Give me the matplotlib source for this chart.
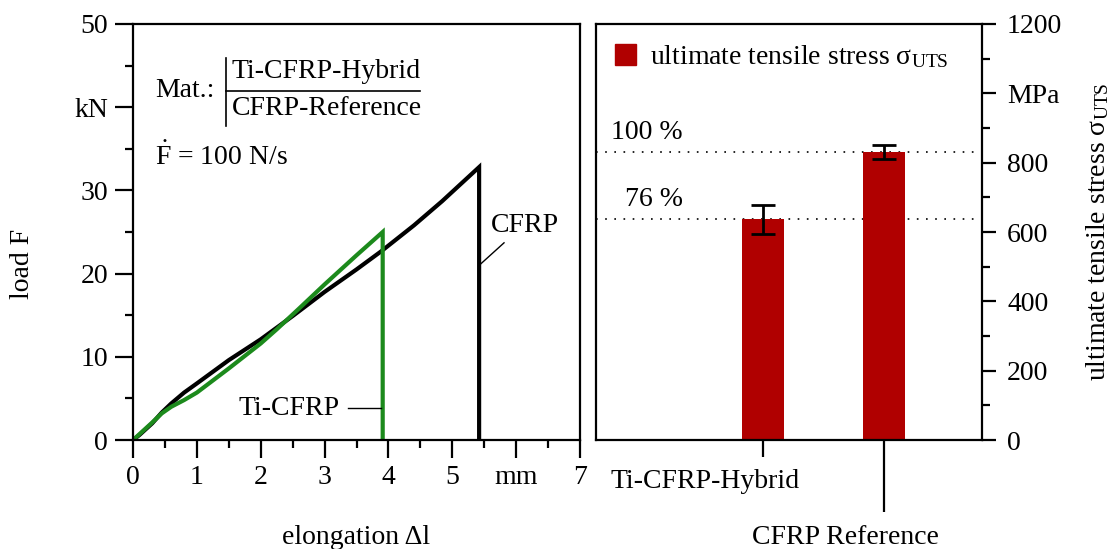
import matplotlib.pyplot as plt
import numpy as np
from matplotlib.ticker import MultipleLocator, FixedLocator
from matplotlib.patches import Patch

plt.rcParams['font.family'] = ['Liberation Serif', 'DejaVu Serif']
plt.rcParams['mathtext.fontset'] = 'custom'
plt.rcParams['mathtext.rm'] = 'Liberation Serif'
plt.rcParams['mathtext.it'] = 'Liberation Serif:italic'
plt.rcParams['font.size'] = 20

# load-elongation curves
cfrp_dl = [0, 0.1, 0.3, 0.45, 0.6, 0.8, 1.0, 1.5, 2.0, 2.5, 3.0, 3.5, 3.89, 4.4, 4.84, 5.42, 5.42]
cfrp_F = [0, 0.6, 2.0, 3.3, 4.4, 5.7, 6.8, 9.6, 12.1, 14.9, 17.8, 20.5, 22.7, 25.8, 28.7, 32.8, 0]
ti_dl = [0, 0.1, 0.3, 0.45, 0.6, 0.8, 1.0, 1.5, 2.0, 2.25, 2.6, 3.0, 3.5, 3.91, 3.91]
ti_F = [0, 0.7, 2.1, 3.2, 4.0, 4.8, 5.7, 8.6, 11.6, 13.3, 15.8, 18.7, 22.2, 25.0, 0]

x_ticks = [0, 1, 2, 3, 4, 5, 6, 7]
x_labels = ['0', '1', '2', '3', '4', '5', 'mm', '7']
y_ticks = [0, 10, 20, 30, 40, 50]
y_labels = ['0', '10', '20', '30', 'kN', '50']

# ultimate tensile stress bars
materials = ['Ti-CFRP-Hybrid', 'CFRP Reference']
uts = [637, 830]
uts_err = [42, 20]
pct_lines = [830, 637]
pct_labels = ['100 %', '76 %']
s_ticks = [0, 200, 400, 600, 800, 1000, 1200]
s_labels = ['0', '200', '400', '600', '800', 'MPa', '1200']

green = '#1c8a1c'
red = '#b00000'

fig = plt.figure(figsize=(11.12, 5.49), dpi=100)
ax1 = fig.add_axes([0.1196, 0.1985, 0.402, 0.7578])
ax2 = fig.add_axes([0.536, 0.1985, 0.3471, 0.7578])

for ax in (ax1, ax2):
    for s in ax.spines.values():
        s.set_linewidth(1.6)

# ---- left panel
ax1.plot(cfrp_dl, cfrp_F, color='black', lw=3, solid_joinstyle='miter')
ax1.plot(ti_dl, ti_F, color=green, lw=3, solid_joinstyle='miter')
ax1.set_xlim(0, 7)
ax1.set_ylim(0, 50)
ax1.xaxis.set_major_locator(FixedLocator(x_ticks))
ax1.set_xticklabels(x_labels)
ax1.xaxis.set_minor_locator(MultipleLocator(0.5))
ax1.yaxis.set_major_locator(FixedLocator(y_ticks))
ax1.set_yticklabels(y_labels)
ax1.yaxis.set_minor_locator(MultipleLocator(5))
ax1.tick_params(which='major', direction='out', length=13, width=1.6, pad=5)
ax1.tick_params(which='minor', direction='out', length=6, width=1.6)
ax1.set_xlabel('elongation Δl', labelpad=25)
fig.text(0.02, 0.52, 'load F', rotation=90, ha='center', va='center', fontsize=20)

ax1.plot([5.45, 5.81], [21.2, 23.7], color='black', lw=1)
ax1.text(6.14, 25.8, 'CFRP', ha='center', va='center')
ax1.plot([3.36, 3.88], [3.8, 3.8], color='black', lw=1)
ax1.text(3.23, 3.8, 'Ti-CFRP', ha='right', va='center')

ax1.text(0.049, 0.841, 'Mat.:', transform=ax1.transAxes, va='center')
ax1.plot([0.208, 0.208], [0.755, 0.918], transform=ax1.transAxes, color='black', lw=1.2)
ax1.plot([0.208, 0.642], [0.839, 0.839], transform=ax1.transAxes, color='black', lw=1.2)
ax1.text(0.221, 0.885, 'Ti-CFRP-Hybrid', transform=ax1.transAxes, va='center')
ax1.text(0.221, 0.798, 'CFRP-Reference', transform=ax1.transAxes, va='center')
ax1.text(0.049, 0.680, r'$\dot{\mathrm{F}}$ = 100 N/s', transform=ax1.transAxes, va='center')

# ---- right panel
xpos = np.arange(len(materials))
ax2.bar(xpos, uts, width=0.34, color=red, zorder=2)
ax2.errorbar(xpos, uts, yerr=uts_err, fmt='none', ecolor='black', elinewidth=2,
             capsize=8.5, capthick=2, zorder=3)
for v, lab in zip(pct_lines, pct_labels):
    ax2.axhline(v, color='black', ls=(0, (1, 4.5)), lw=1.2, zorder=1)
    ax2.text(0.225, v + 22, lab, transform=ax2.get_yaxis_transform(), ha='right', va='bottom')
ax2.set_xlim(-1.38, 1.81)
ax2.set_ylim(0, 1200)
ax2.yaxis.tick_right()
ax2.yaxis.set_label_position('right')
ax2.yaxis.set_major_locator(FixedLocator(s_ticks))
ax2.set_yticklabels(s_labels)
ax2.yaxis.set_minor_locator(MultipleLocator(100))
ax2.tick_params(axis='y', which='major', direction='out', length=10, width=1.6, pad=8)
ax2.tick_params(axis='y', which='minor', direction='out', length=6, width=1.6)
ax2.set_ylabel(r'ultimate tensile stress σ$_\mathrm{UTS}$', labelpad=16)
ax2.set_xticks(xpos)
ax2.set_xticklabels(['', ''])
ax2.tick_params(axis='x', direction='out', width=1.6, length=12)
ticks = ax2.xaxis.get_major_ticks()
ticks[1].tick1line.set_markersize(52)
ax2.annotate(materials[0], xy=(0, 0), xycoords=('data', 'axes fraction'),
             xytext=(-42, -30), textcoords='offset points', ha='center', va='center')
ax2.annotate(materials[1], xy=(1, 0), xycoords=('data', 'axes fraction'),
             xytext=(-28, -70), textcoords='offset points', ha='center', va='center')
ax2.legend(handles=[Patch(color=red, label=r'ultimate tensile stress σ$_\mathrm{UTS}$')],
           loc='upper left', frameon=False, handlelength=0.75, handleheight=0.75,
           handletextpad=0.5, borderaxespad=0.3, fontsize=20)

fig.savefig('out.png', dpi=100)
